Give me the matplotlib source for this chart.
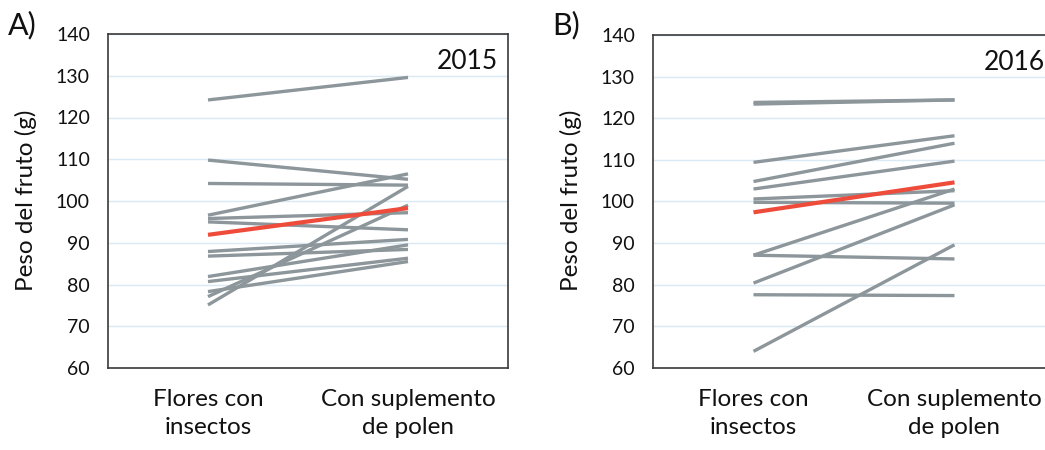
import matplotlib
matplotlib.use("Agg")
import matplotlib.pyplot as plt

plt.rcParams['font.family'] = ['Lato', 'DejaVu Sans']

categories = ["Flores con\ninsectos", "Con suplemento\nde polen"]
y_ticks = [60, 70, 80, 90, 100, 110, 120, 130, 140]

# 2015: individual trees (insect-pollinated -> pollen supplement)
a_insect = [124.2, 109.8, 104.2, 96.6, 95.8, 95.0, 87.9, 86.8, 81.9, 80.7, 78.3, 77.1, 75.1]
a_pollen = [129.6, 105.2, 103.8, 106.5, 97.2, 93.1, 90.8, 88.4, 89.5, 86.3, 85.5, 99.0, 103.5]
a_mean = [91.9, 98.3]

# 2016
b_insect = [123.8, 123.4, 109.4, 104.8, 103.0, 100.6, 99.8, 87.1, 87.1, 80.4, 77.6, 64.0]
b_pollen = [124.4, 124.4, 115.8, 114.0, 109.7, 102.6, 99.6, 103.0, 86.2, 99.2, 77.4, 89.6]
b_mean = [97.4, 104.6]

W, H = 1045, 450
fig = plt.figure(figsize=(W / 100, H / 100), dpi=100)

gray = "#8c969b"
red = "#ee4b3b"
grid = "#dbe9f4"

def panel(rect, insect, pollen, mean, year, letter, letter_x, ylabel_x):
    ax = fig.add_axes(rect)
    xs = [0, 1]
    for a, b in zip(insect, pollen):
        ax.plot(xs, [a, b], color=gray, lw=2.4, solid_capstyle='butt', zorder=2)
    ax.plot(xs, mean, color=red, lw=3.0, solid_capstyle='butt', zorder=3)
    ax.set_xlim(-0.5, 1.5)
    ax.set_ylim(60, 140)
    ax.set_yticks(y_ticks)
    ax.set_xticks(xs)
    ax.set_xticklabels(categories, fontsize=17.5, linespacing=1.45)
    ax.tick_params(axis='y', length=0, pad=13, labelsize=14, colors='#111111')
    ax.tick_params(axis='x', length=0, pad=15, colors='#111111')
    ax.grid(axis='y', color=grid, lw=1.0, zorder=0)
    ax.set_axisbelow(True)
    for s in ax.spines.values():
        s.set_color('#3a3a3a')
        s.set_linewidth(1.2)
    ax.text(0.975, 0.955, year, transform=ax.transAxes, ha='right', va='top',
            fontsize=19, color='#111111')
    fig.text(ylabel_x, 0.555, "Peso del fruto (g)", rotation=90, ha='center', va='center',
             fontsize=17.5, color='#111111')
    fig.text(letter_x, 0.945, letter, ha='left', va='center', fontsize=22, color='#111111')
    return ax

panel([108 / W, 1 - 368 / H, 400 / W, 334 / H], a_insect, a_pollen, a_mean,
      "2015", "A)", 8 / W, 26 / W)
panel([653 / W, 1 - 368 / H, 402 / W, 333 / H], b_insect, b_pollen, b_mean,
      "2016", "B)", 552 / W, 571 / W)

fig.savefig("out.png", dpi=100)
